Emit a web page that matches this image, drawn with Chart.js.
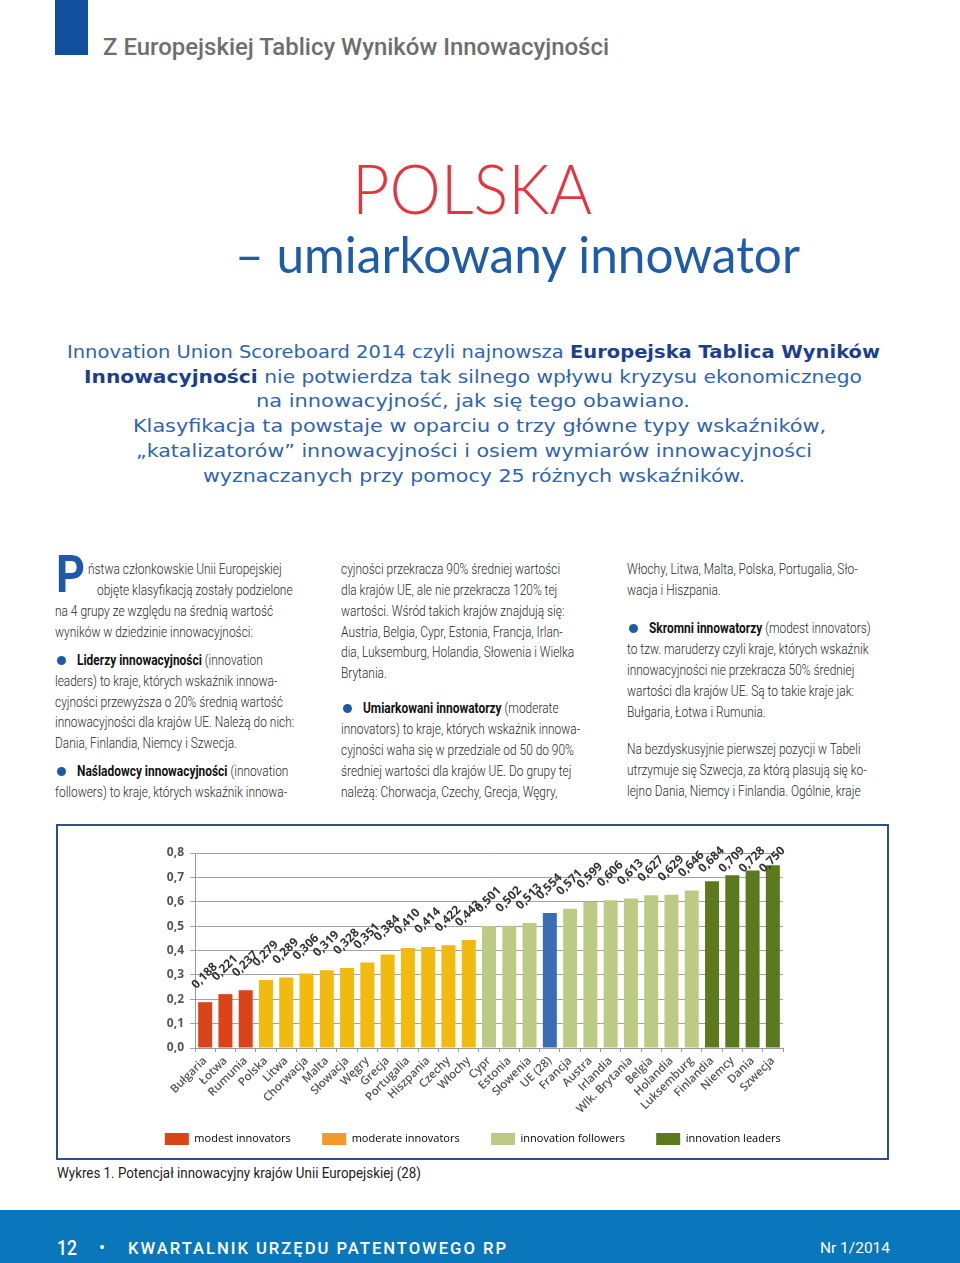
<!DOCTYPE html>
<html lang="pl">
<head>
<meta charset="utf-8">
<title>Polska – umiarkowany innowator</title>
<script src="https://cdn.jsdelivr.net/npm/chart.js@4.4.1/dist/chart.umd.min.js"></script>
<style>
html,body{margin:0;padding:0;background:#fff;}
#page{position:relative;width:960px;height:1263px;overflow:hidden;background:#fff;}
.a{position:absolute;white-space:nowrap;}
.fit{display:inline-block;transform-origin:0 50%;}
.hdr{font-family:Roboto,sans-serif;font-weight:500;font-size:24px;color:#6e6e6e;line-height:30px;}
.intro{font-family:"DejaVu Sans",sans-serif;font-size:18px;color:#2e64b0;line-height:24px;}
.intro b{color:#1c3f8d;font-weight:bold;}
.b{font-family:Roboto,sans-serif;font-weight:300;font-size:15.5px;color:#2a2a2a;line-height:20px;display:inline-block;transform-origin:0 50%;}
.b strong{font-weight:700;color:#111;}
.dot{position:absolute;width:9px;height:9px;border-radius:50%;background:#1f5aa6;}
#frame{position:absolute;left:56px;top:824px;width:833px;height:336px;box-sizing:border-box;border:2px solid #2c4f8c;}
#chartBox{position:absolute;left:58px;top:826px;width:829px;height:332px;}
#footer{position:absolute;left:0;top:1210px;width:960px;height:53px;background:#0a76bc;}
</style>
</head>
<body>
<div id="page">
  <div class="a" style="left:55px;top:0;width:33px;height:55px;background:#0f4f9e;"></div>
  <div class="a hdr" style="left:103px;top:32px;"><span class="fit" data-w="506">Z Europejskiej Tablicy Wyników Innowacyjności</span></div>

  <div class="a" style="left:352px;top:148px;font-family:Lato,sans-serif;font-weight:300;font-size:68px;line-height:80px;color:#e8323c;"><span class="fit" data-w="240">POLSKA</span></div>
  <div class="a" style="left:235px;top:222px;font-family:Lato,sans-serif;font-size:50px;line-height:64px;color:#1e5ba8;"><span class="fit" data-w="565">– umiarkowany innowator</span></div>

  <div class="a intro" style="left:67px;top:340px;"><span class="fit" data-w="813">Innovation Union Scoreboard 2014 czyli najnowsza <b>Europejska Tablica Wyników</b></span></div>
  <div class="a intro" style="left:84px;top:365px;"><span class="fit" data-w="778"><b>Innowacyjności</b> nie potwierdza tak silnego wpływu kryzysu ekonomicznego</span></div>
  <div class="a intro" style="left:256px;top:389px;"><span class="fit" data-w="434">na innowacyjność, jak się tego obawiano.</span></div>
  <div class="a intro" style="left:133px;top:414px;"><span class="fit" data-w="693">Klasyfikacja ta powstaje w oparciu o trzy główne typy wskaźników,</span></div>
  <div class="a intro" style="left:136px;top:439px;"><span class="fit" data-w="676">„katalizatorów” innowacyjności i osiem wymiarów innowacyjności</span></div>
  <div class="a intro" style="left:203px;top:464px;"><span class="fit" data-w="542">wyznaczanych przy pomocy 25 różnych wskaźników.</span></div>

  <!-- column 1 -->
  <div class="a" style="left:56px;top:549px;font-family:Roboto,sans-serif;font-weight:700;font-size:52px;line-height:52px;color:#1f5aa6;"><span class="fit" data-w="29">P</span></div>
  <div class="a" style="left:88px;top:559px;"><span class="b">ństwa członkowskie Unii Europejskiej</span></div>
  <div class="a" style="left:97px;top:580px;"><span class="b">objęte klasyfikacją zostały podzielone</span></div>
  <div class="a" style="left:55px;top:601px;"><span class="b">na 4 grupy ze względu na średnią wartość</span></div>
  <div class="a" style="left:55px;top:622px;"><span class="b" id="refline">wyników w dziedzinie innowacyjności:</span></div>
  <div class="dot" style="left:57px;top:656px;"></div>
  <div class="a" style="left:77px;top:650px;"><span class="b"><strong>Liderzy innowacyjności</strong> (innovation</span></div>
  <div class="a" style="left:55px;top:671px;"><span class="b">leaders) to kraje, których wskaźnik innowa-</span></div>
  <div class="a" style="left:55px;top:692px;"><span class="b">cyjności przewyższa o 20% średnią wartość</span></div>
  <div class="a" style="left:55px;top:712px;"><span class="b">innowacyjności dla krajów UE. Należą do nich:</span></div>
  <div class="a" style="left:55px;top:733px;"><span class="b">Dania, Finlandia, Niemcy i Szwecja.</span></div>
  <div class="dot" style="left:57px;top:767px;"></div>
  <div class="a" style="left:77px;top:761px;"><span class="b"><strong>Naśladowcy innowacyjności</strong> (innovation</span></div>
  <div class="a" style="left:55px;top:782px;"><span class="b">followers) to kraje, których wskaźnik innowa-</span></div>

  <!-- column 2 -->
  <div class="a" style="left:341px;top:559px;"><span class="b">cyjności przekracza 90% średniej wartości</span></div>
  <div class="a" style="left:341px;top:580px;"><span class="b">dla krajów UE, ale nie przekracza 120% tej</span></div>
  <div class="a" style="left:341px;top:601px;"><span class="b">wartości. Wśród takich krajów znajdują się:</span></div>
  <div class="a" style="left:341px;top:622px;"><span class="b">Austria, Belgia, Cypr, Estonia, Francja, Irlan-</span></div>
  <div class="a" style="left:341px;top:642px;"><span class="b">dia, Luksemburg, Holandia, Słowenia i Wielka</span></div>
  <div class="a" style="left:341px;top:663px;"><span class="b">Brytania.</span></div>
  <div class="dot" style="left:343px;top:704px;"></div>
  <div class="a" style="left:363px;top:698px;"><span class="b"><strong>Umiarkowani innowatorzy</strong> (moderate</span></div>
  <div class="a" style="left:341px;top:719px;"><span class="b">innovators) to kraje, których wskaźnik innowa-</span></div>
  <div class="a" style="left:341px;top:740px;"><span class="b">cyjności waha się w przedziale od 50 do 90%</span></div>
  <div class="a" style="left:341px;top:761px;"><span class="b">średniej wartości dla krajów UE. Do grupy tej</span></div>
  <div class="a" style="left:341px;top:782px;"><span class="b">należą: Chorwacja, Czechy, Grecja, Węgry,</span></div>

  <!-- column 3 -->
  <div class="a" style="left:627px;top:559px;"><span class="b">Włochy, Litwa, Malta, Polska, Portugalia, Sło-</span></div>
  <div class="a" style="left:627px;top:580px;"><span class="b">wacja i Hiszpania.</span></div>
  <div class="dot" style="left:629px;top:624px;"></div>
  <div class="a" style="left:649px;top:618px;"><span class="b"><strong>Skromni innowatorzy</strong> (modest innovators)</span></div>
  <div class="a" style="left:627px;top:639px;"><span class="b">to tzw. maruderzy czyli kraje, których wskaźnik</span></div>
  <div class="a" style="left:627px;top:660px;"><span class="b">innowacyjności nie przekracza 50% średniej</span></div>
  <div class="a" style="left:627px;top:681px;"><span class="b">wartości dla krajów UE. Są to takie kraje jak:</span></div>
  <div class="a" style="left:627px;top:702px;"><span class="b">Bułgaria, Łotwa i Rumunia.</span></div>
  <div class="a" style="left:627px;top:739px;"><span class="b">Na bezdyskusyjnie pierwszej pozycji w Tabeli</span></div>
  <div class="a" style="left:627px;top:760px;"><span class="b">utrzymuje się Szwecja, za którą plasują się ko-</span></div>
  <div class="a" style="left:627px;top:781px;"><span class="b">lejno Dania, Niemcy i Finlandia. Ogólnie, kraje</span></div>

  <div id="frame"></div>
  <div id="chartBox"><canvas id="myChart" width="829" height="332"></canvas></div>

  <div class="a" style="left:57px;top:1164px;font-family:Roboto,sans-serif;font-size:14px;line-height:18px;color:#222;"><span class="fit" data-w="364">Wykres 1. Potencjał innowacyjny krajów Unii Europejskiej (28)</span></div>

  <div id="footer"></div>
  <div class="a" style="left:57px;top:1235px;font-family:Roboto,sans-serif;font-weight:500;font-size:21px;line-height:26px;color:#fff;"><span class="fit" data-w="20">12</span></div>
  <div class="a" style="left:99px;top:1236px;font-family:Roboto,sans-serif;font-size:18px;line-height:24px;color:#fff;">•</div>
  <div class="a" style="left:128px;top:1236px;font-family:Roboto,sans-serif;font-weight:500;font-size:17px;line-height:24px;color:#fff;letter-spacing:2px;"><span class="fit" data-w="380">KWARTALNIK URZĘDU PATENTOWEGO RP</span></div>
  <div class="a" style="left:820px;top:1237px;font-family:Roboto,sans-serif;font-size:15px;line-height:22px;color:#fff;"><span class="fit" data-w="70">Nr 1/2014</span></div>
</div>

<script>
// dane wykresu
const countries = ['Bułgaria', 'Łotwa', 'Rumunia', 'Polska', 'Litwa', 'Chorwacja', 'Malta', 'Słowacja', 'Węgry', 'Grecja',
    'Portugalia', 'Hiszpania', 'Czechy', 'Włochy', 'Cypr', 'Estonia', 'Słowenia', 'UE (28)', 'Francja', 'Austra',
    'Irlandia', 'Wlk. Brytania', 'Belgia', 'Holandia', 'Luksemburg', 'Finlandia', 'Niemcy', 'Dania', 'Szwecja'];
const scores = [0.188, 0.221, 0.237, 0.279, 0.289, 0.306, 0.319, 0.328, 0.351, 0.384,
    0.410, 0.414, 0.422, 0.443, 0.501, 0.502, 0.513, 0.554, 0.571, 0.599,
    0.606, 0.613, 0.627, 0.629, 0.646, 0.684, 0.709, 0.728, 0.750];
// 0 modest, 1 moderate, 2 followers, 3 leaders, 4 UE
const groups = [0, 0, 0, 1, 1, 1, 1, 1, 1, 1,
    1, 1, 1, 1, 2, 2, 2, 4, 2, 2,
    2, 2, 2, 2, 2, 3, 3, 3, 3];
const groupNames = ['modest innovators', 'moderate innovators', 'innovation followers', 'innovation leaders'];
const barColors = ['#da4418', '#f2b90e', '#bccb84', '#5b7a1d', '#3b6db5'];
const legendColors = ['#da4418', '#f39a2c', '#bccb84', '#5b7a1d'];
const yMin = 0, yMax = 0.8, yStep = 0.1;

// dopasowanie szerokosci tekstow
document.querySelectorAll('.fit[data-w]').forEach(el => {
    const w = el.getBoundingClientRect().width;
    el.style.transform = 'scaleX(' + (parseFloat(el.dataset.w) / w) + ')';
});
const refW = document.getElementById('refline').getBoundingClientRect().width;
const bodyScale = 198 / refW;
document.querySelectorAll('.b').forEach(el => {
    el.style.transform = 'scaleX(' + bodyScale + ')';
});

const fmt = v => v.toFixed(3).replace('.', ',');
// odstep miedzy pozycjami legendy (em + en + thin space)
const legendGap = '\u2003\u2002\u2009';

const valueLabels = {
    id: 'valueLabels',
    afterDatasetsDraw(chart) {
        const ctx = chart.ctx;
        const meta = chart.getDatasetMeta(0);
        const topLimit = chart.chartArea.top + 20;
        ctx.save();
        ctx.font = 'bold 12px "Open Sans"';
        ctx.fillStyle = '#333';
        ctx.textAlign = 'left';
        ctx.textBaseline = 'alphabetic';
        meta.data.forEach((bar, i) => {
            ctx.save();
            ctx.translate(bar.x - 9, Math.max(bar.y - 13, topLimit));
            ctx.rotate(-Math.PI / 4);
            ctx.fillText(fmt(scores[i]), 0, 0);
            ctx.restore();
        });
        ctx.restore();
    }
};

const ctx = document.getElementById('myChart').getContext('2d');
const myChart = new Chart(ctx, {
    type: 'bar',
    data: {
        labels: countries,
        datasets: [{
            label: 'Potencjał innowacyjny',
            data: scores,
            backgroundColor: groups.map(g => barColors[g]),
            borderWidth: 0,
            barPercentage: 0.69,
            categoryPercentage: 1
        }]
    },
    options: {
        responsive: false,
        animation: false,
        layout: {
            padding: { top: 27, right: 0, bottom: 3, left: 19 }
        },
        plugins: {
            tooltip: { enabled: false },
            legend: {
                position: 'bottom',
                onClick: null,
                labels: {
                    boxWidth: 24,
                    boxHeight: 12,
                    padding: 13,
                    color: '#4a3448',
                    font: { family: 'Open Sans', size: 11 },
                    generateLabels: () => groupNames.map((t, i) => ({
                        text: t + legendGap,
                        fillStyle: legendColors[i],
                        strokeStyle: legendColors[i],
                        lineWidth: 0,
                        hidden: false,
                        index: i
                    }))
                }
            }
        },
        scales: {
            x: {
                grid: { display: true, drawOnChartArea: false, drawTicks: true, tickLength: 4, color: '#999' },
                border: { color: '#999', width: 1 },
                ticks: {
                    autoSkip: false,
                    minRotation: 45,
                    maxRotation: 45,
                    padding: 2,
                    color: '#555',
                    font: { family: 'Open Sans', size: 11.5, weight: '600' }
                },
                afterFit: scale => { scale.height = 72; }
            },
            y: {
                min: yMin,
                max: yMax,
                grid: { color: '#a3a3a3', tickLength: 5 },
                border: { color: '#999', width: 1 },
                ticks: {
                    stepSize: yStep,
                    padding: 6,
                    color: '#555',
                    font: { family: 'Open Sans', size: 12, weight: 'bold' },
                    callback: v => v.toFixed(1).replace('.', ',')
                },
                afterFit: scale => { scale.width = 118; }
            },
            // pusta os po prawej - tylko margines
            yRight: {
                position: 'right',
                grid: { display: false, drawTicks: false },
                border: { display: false },
                ticks: { display: false },
                afterFit: scale => { scale.width = 104; }
            }
        }
    },
    plugins: [valueLabels]
});
</script>
</body>
</html>
